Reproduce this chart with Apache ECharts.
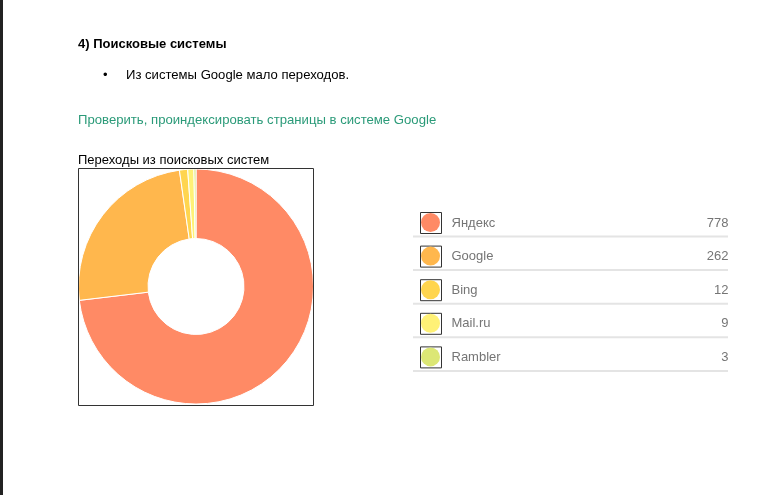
<!DOCTYPE html>
<html><head><meta charset="utf-8">
<script src="https://cdn.jsdelivr.net/npm/echarts@6/dist/echarts.min.js"></script>
<style>html,body{margin:0;padding:0;background:#fff}#c{width:768px;height:495px}</style>
</head><body><div id="c"></div>
<script>
var categories = ['Яндекс', 'Google', 'Bing', 'Mail.ru', 'Rambler'];
var values = [778, 262, 12, 9, 3];
var colors = ['#FF8A65', '#FFB74D', '#FFD54F', '#FFF176', '#DCE775'];

var FONT = '"Liberation Sans", Arial, sans-serif';
var legTop = 212, pitch = 33.6, boxSize = 21, boxBorder = 1, dotSize = 19;

var chart = echarts.init(document.getElementById('c'), null, {renderer: 'canvas'});
var data = categories.map(function (n, i) { return {name: n, value: values[i], itemStyle: {color: colors[i]}}; });
var valueOf = {};
categories.forEach(function (n, i) { valueOf[n] = values[i]; });

var seps = categories.map(function (n, i) {
  var y = legTop + boxSize + 3.5 + i * pitch;
  return {type: 'line', shape: {x1: 413, y1: y, x2: 728, y2: y}, style: {stroke: '#e4e4e4', lineWidth: 2}, silent: true};
});

chart.setOption({
  animation: false,
  textStyle: {fontFamily: FONT},
  title: [
    {text: '4) Поисковые системы', left: 78, top: 38, padding: 0, textStyle: {fontFamily: FONT, fontSize: 13, fontWeight: 'bold', color: '#000'}},
    {text: '•', left: 103, top: 69, padding: 0, textStyle: {fontFamily: FONT, fontSize: 13, fontWeight: 'normal', color: '#000'}},
    {text: 'Из системы Google мало переходов.', left: 126, top: 69, padding: 0, textStyle: {fontFamily: FONT, fontSize: 13.1, fontWeight: 'normal', color: '#000'}},
    {text: 'Проверить, проиндексировать страницы в системе Google', left: 78, top: 114, padding: 0, textStyle: {fontFamily: FONT, fontSize: 13.15, fontWeight: 'normal', color: '#2a9a78'}},
    {text: 'Переходы из поисковых систем', left: 78, top: 154, padding: 0, textStyle: {fontFamily: FONT, fontSize: 13, fontWeight: 'normal', color: '#000'}}
  ],
  legend: [
    {
      orient: 'vertical', left: 420, top: legTop, padding: 0,
      itemWidth: boxSize, itemHeight: boxSize, itemGap: pitch - boxSize - boxBorder,
      icon: 'rect', selectedMode: false,
      itemStyle: {color: '#ffffff', borderColor: '#333333', borderWidth: boxBorder},
      data: categories,
      formatter: function (name) { return '{n|' + name + '}{v|' + valueOf[name] + '}'; },
      textStyle: {
        color: '#757575', fontSize: 13, fontFamily: FONT, lineHeight: 16,
        rich: {
          n: {width: 255, padding: [0, 0, 0, 5], color: '#757575', fontSize: 13, fontFamily: FONT, lineHeight: 16},
          v: {width: 22, align: 'right', color: '#757575', fontSize: 13, fontFamily: FONT, lineHeight: 16}
        }
      }
    },
    {
      orient: 'vertical', left: 421, top: legTop + 1, padding: 0,
      itemWidth: dotSize, itemHeight: dotSize, itemGap: pitch - dotSize,
      icon: 'circle', selectedMode: false,
      itemStyle: {borderWidth: 0},
      data: categories,
      formatter: function () { return ''; },
      textStyle: {fontSize: 8, lineHeight: 8}
    }
  ],
  graphic: [
    {type: 'rect', shape: {x: 0, y: 0, width: 3, height: 495}, style: {fill: '#222222'}, silent: true},
    {type: 'rect', shape: {x: 78.5, y: 168.5, width: 235, height: 237}, style: {fill: 'none', stroke: '#333333', lineWidth: 1}, silent: true, z: 10}
  ].concat(seps),
  series: [{
    type: 'pie',
    center: [196, 286.5],
    radius: [48, 117.5],
    startAngle: 90,
    clockwise: true,
    avoidLabelOverlap: false,
    label: {show: false},
    labelLine: {show: false},
    itemStyle: {borderColor: '#ffffff', borderWidth: 1},
    emphasis: {disabled: true},
    data: data
  }]
});
</script></body></html>
